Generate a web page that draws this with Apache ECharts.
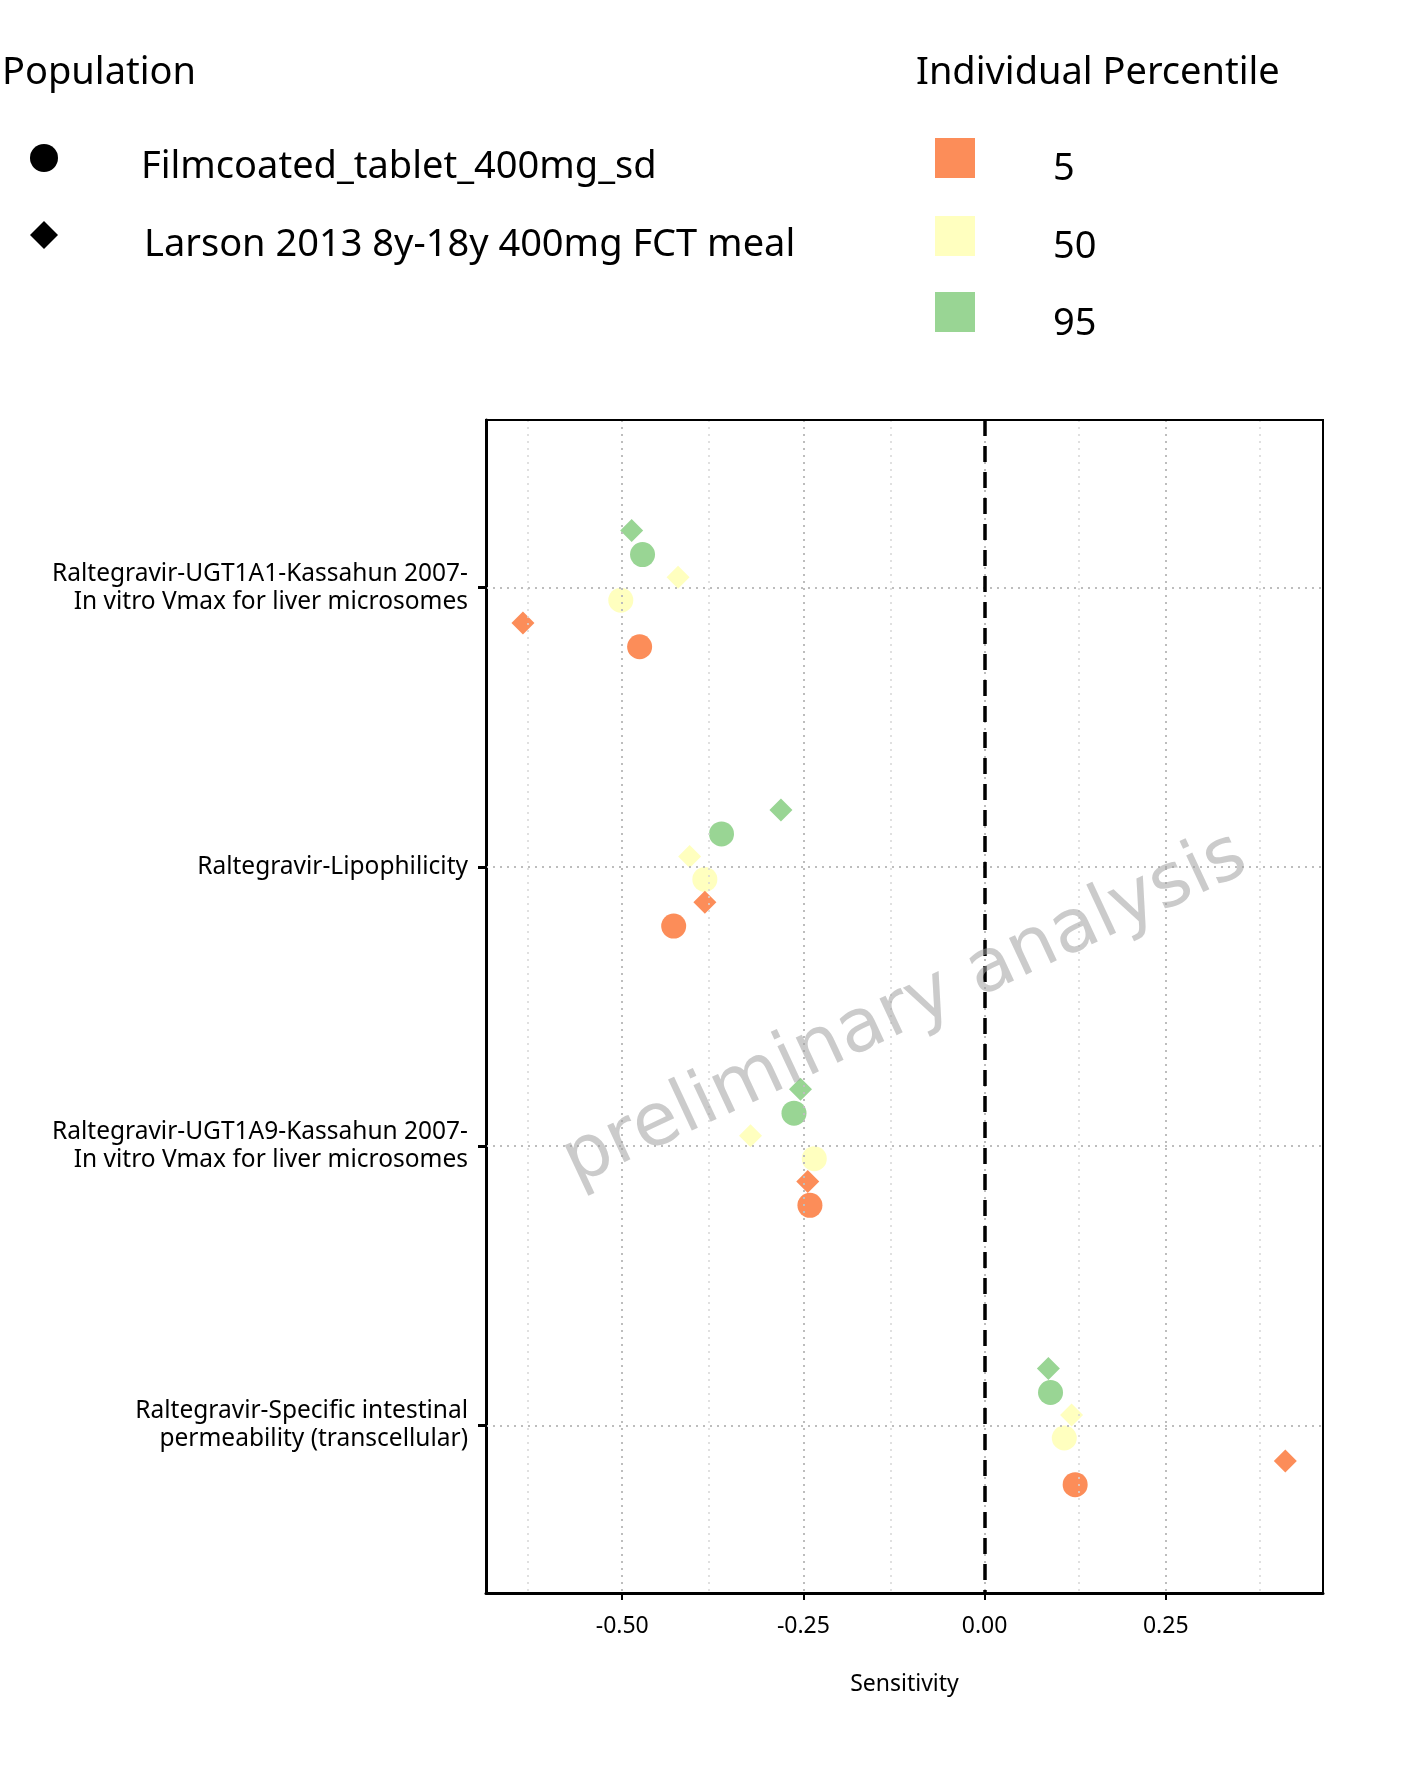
<!DOCTYPE html>
<html><head><meta charset="utf-8">
<script src="https://cdn.jsdelivr.net/npm/echarts@6/dist/echarts.min.js"></script>
<style>html,body{margin:0;background:#fff}#c{width:1406px;height:1786px}</style>
</head><body><div id="c"></div>
<script>
// parameters, top to bottom
var categories = ['Raltegravir-UGT1A1-Kassahun 2007-\nIn vitro Vmax for liver microsomes',
    'Raltegravir-Lipophilicity',
    'Raltegravir-UGT1A9-Kassahun 2007-\nIn vitro Vmax for liver microsomes',
    'Raltegravir-Specific intestinal\npermeability (transcellular)'];
var xTicks = [-0.5, -0.25, 0, 0.25];
var minorGrid = [-0.625, -0.375, -0.125, 0.125, 0.375];
// sensitivity per category, by percentile and population
var film5  = [-0.476, -0.429, -0.241, 0.125];
var film50 = [-0.502, -0.386, -0.235, 0.110];
var film95 = [-0.472, -0.363, -0.263, 0.091];
var lars5  = [-0.637, -0.386, -0.244, 0.415];
var lars50 = [-0.423, -0.407, -0.323, 0.120];
var lars95 = [-0.487, -0.281, -0.254, 0.088];

var colors = {'5': '#FC8D59', '50': '#FFFFBF', '95': '#99D594'};
var groups = [
  {vals: lars95, pct: '95', sym: 'diamond', off: -0.204},
  {vals: film95, pct: '95', sym: 'circle', off: -0.118},
  {vals: lars50, pct: '50', sym: 'diamond', off: -0.037},
  {vals: film50, pct: '50', sym: 'circle', off: 0.045},
  {vals: lars5, pct: '5', sym: 'diamond', off: 0.127},
  {vals: film5, pct: '5', sym: 'circle', off: 0.212}
];

var majorLine = {color: '#bdbdbd', type: [2, 5], width: 2};
var minorLine = {color: '#d6d6d6', type: [2, 5], width: 1.5};
var series = [{
  type: 'scatter', data: [], silent: true,
  markLine: {silent: true, symbol: 'none', label: {show: false},
    data: xTicks.map(function (v) { return {xAxis: v, lineStyle: majorLine}; })
      .concat(minorGrid.map(function (v) { return {xAxis: v, lineStyle: minorLine}; }))
      .concat([1, 2, 3, 4].map(function (v) { return {yAxis: v, lineStyle: majorLine}; }))
      .concat([{xAxis: 0, lineStyle: {color: '#000', type: [16, 10], width: 3.5}}])}
}];
groups.forEach(function (g) {
  series.push({
    type: 'scatter', symbol: g.sym, symbolSize: g.sym === 'circle' ? 25 : 23,
    itemStyle: {color: colors[g.pct], opacity: 1},
    data: g.vals.map(function (v, i) { return [v, i + 1 + g.off]; })
  });
});

var chart = echarts.init(document.getElementById('c'));
var tf = 'Noto Sans';
var legendItems = [
  {type: 'text', left: 2, top: 54, style: {text: 'Population', font: '38px "Noto Sans"', fill: '#000'}},
  {type: 'circle', shape: {cx: 44, cy: 158, r: 14}, style: {fill: '#000'}},
  {type: 'text', left: 141, top: 148, style: {text: 'Filmcoated_tablet_400mg_sd', font: '38px "Noto Sans"', fill: '#000'}},
  {type: 'polygon', shape: {points: [[44, 221], [58, 235], [44, 249], [30, 235]]}, style: {fill: '#000'}},
  {type: 'text', left: 144, top: 226, style: {text: 'Larson 2013 8y-18y 400mg FCT meal', font: '38px "Noto Sans"', fill: '#000'}},
  {type: 'text', left: 916, top: 54, style: {text: 'Individual Percentile', font: '38px "Noto Sans"', fill: '#000'}}
];
[['5', 158, 170], ['50', 236, 248], ['95', 312, 325]].forEach(function (p) {
  legendItems.push({type: 'rect', shape: {x: 935, y: p[1] - 20, width: 40, height: 40}, style: {fill: colors[p[0]]}});
  legendItems.push({type: 'text', left: 1053, top: p[2] - 20, style: {text: p[0], font: '38px "Noto Sans"', fill: '#000'}});
});
legendItems.push({type: 'text', x: 905, y: 1010, rotation: 25 * Math.PI / 180, z: 100,
  style: {text: 'preliminary analysis', font: '74px "DejaVu Sans"', fill: 'rgba(160,160,160,0.55)', align: 'center', verticalAlign: 'middle'}});

chart.setOption({
  backgroundColor: '#fff',
  textStyle: {fontFamily: tf},
  grid: {left: 486, top: 420, width: 837, height: 1173},
  xAxis: {type: 'value', min: -0.688, max: 0.467,
    name: 'Sensitivity', nameLocation: 'middle', nameGap: 80,
    nameTextStyle: {fontSize: 23, color: '#000', fontFamily: tf},
    axisLine: {onZero: false, lineStyle: {color: '#000', width: 3}},
    axisTick: {show: true, length: 7, lineStyle: {color: '#000', width: 2}, customValues: xTicks},
    axisLabel: {customValues: xTicks, fontSize: 23, color: '#000', margin: 22,
      formatter: function (v) { return v.toFixed(2); }},
    splitLine: {show: false}},
  yAxis: {type: 'value', min: 0.4, max: 4.6, inverse: true,
    axisLine: {show: true, onZero: false, lineStyle: {color: '#000', width: 3}},
    axisTick: {show: true, length: 8, lineStyle: {color: '#000', width: 3}, customValues: [1, 2, 3, 4]},
    axisLabel: {customValues: [1, 2, 3, 4], fontSize: 24.5, color: '#000', margin: 18, lineHeight: 28, align: 'right',
      formatter: function (v) { return categories[Math.round(v) - 1]; }},
    splitLine: {show: false}},
  graphic: legendItems.concat([{type: 'rect', shape: {x: 486, y: 420, width: 837, height: 1173},
    style: {fill: 'none', stroke: '#000', lineWidth: 2}, z: 50}]),
  series: series
});
</script></body></html>
